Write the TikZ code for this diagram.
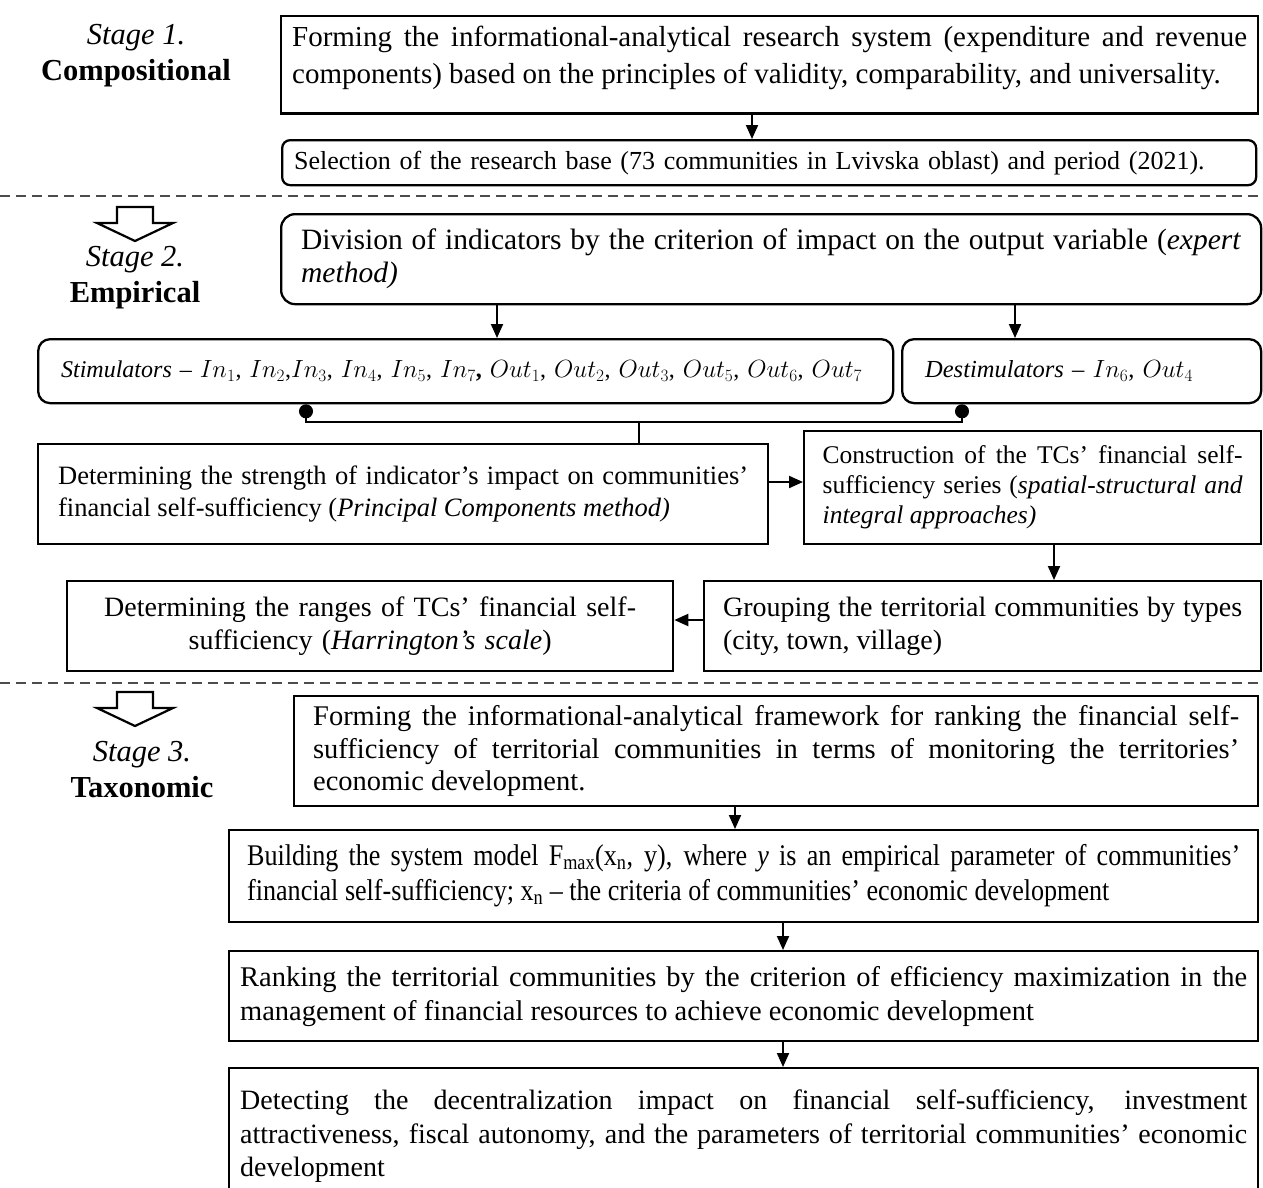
\documentclass[tikz,border=0pt]{standalone}
\usepackage{fontspec}
\setmainfont{Liberation Serif}
\newfontfamily\narrowserif[FakeStretch=0.87]{Liberation Serif}
\usepackage{tikz}
\usetikzlibrary{calc}
\usetikzlibrary{arrows.meta}
\hyphenpenalty=10000
\exhyphenpenalty=10000
\tikzset{
	>={Triangle[length=14pt,width=12pt]},
	stepbox/.style={
		draw=black, line width=2.3pt,
		anchor=north west,
		inner xsep=2pt,
		inner ysep=4pt,
		align=justify},
	roundbox/.style={
		stepbox,
		rounded corners=12pt},
	txt/.style 2 args={font=\fontsize{#1pt}{#2pt}\selectfont},
	flow/.style={draw, line width=2pt, ->},
	link/.style={draw, line width=2pt},
	stagelabel/.style={align=center, txt={30.5}{36}},
	sepline/.style={draw=black!70, line width=1.5pt, dash pattern=on 10pt off 6pt},
	stagearrow/.pic={
		\draw[line width=2.2pt, line join=miter]
			(-18,0) -- (18,0) -- (18,16) -- (38,16) -- (0,34) -- (-38,16) -- (-18,16) -- cycle;
	},
}

\begin{document}
\begin{tikzpicture}[x=1pt, y=-1pt]
	\useasboundingbox (0,0) rectangle (1263,1187);

	% stage labels
	\node[stagelabel] (stage1) at (136,56) {\textit{Stage 1.}\\\textbf{Compositional}};
	\node[stagelabel] (stage2) at (135,278) {\textit{Stage 2.}\\\textbf{Empirical}};
	\node[stagelabel] (stage3) at (142,770) {\textit{Stage 3.}\\\textbf{Taxonomic}};

	\draw[sepline] (0,196) -- (1263,196);
	\draw[sepline] (0,683) -- (1263,683);
	\pic at (135,207) {stagearrow};
	\pic at (135,692) {stagearrow};

	% stage 1
	\node[stepbox, txt={29}{37}, minimum width=977pt, minimum height=97pt, text width=955pt,
		inner ysep=10pt, text depth=57pt] (form1) at (280,15)
		{Forming the informational-analytical research system (expenditure and revenue\linebreak components) based on the principles of validity, comparability, and universality.};
	\node[roundbox, rounded corners=8pt, txt={26}{30}, align=left, minimum width=974pt,
		minimum height=45pt, text width=950pt] (select) at (281,139)
		{Selection of the research base (73 communities in Lvivska oblast) and period (2021).};

	% stage 2
	\node[roundbox, rounded corners=14pt, txt={29.5}{33}, minimum width=980pt, minimum height=90pt,
		text width=940pt] (division) at (280,213)
		{Division of indicators by the criterion of impact on the output variable (\textit{expert}\linebreak \textit{method)}};
	\node[roundbox, txt={24}{30}, align=left, minimum width=855pt, minimum height=64pt,
		text width=809pt] (stim) at (37,338)
		{\mbox{\textit{Stimulators} – $In_1$, $In_2$,$In_3$, $In_4$, $In_5$, $In_7$\textbf{,} $Out_1$, $Out_2$, $Out_3$, $Out_5$, $Out_6$, $Out_7$}};
	\node[roundbox, txt={24.5}{30}, align=left, minimum width=359pt, minimum height=64pt,
		text width=313pt] (destim) at (901,338)
		{\mbox{\textit{Destimulators} – $In_6$, $Out_4$}};
	\node[stepbox, txt={26.5}{32}, minimum width=730pt, minimum height=100pt,
		text width=690pt] (determ) at (37,443)
		{Determining the strength of indicator’s impact on communities’\linebreak financial self-sufficiency (\textit{Principal Components method)}};
	\node[stepbox, txt={25.5}{30}, minimum width=457pt, minimum height=113pt,
		text width=420pt] (constr) at (803,430)
		{Construction of the TCs’ financial self-\linebreak sufficiency series (\textit{spatial-structural and}\linebreak \textit{integral approaches)}};
	\node[stepbox, txt={28}{33}, minimum width=557pt, minimum height=90pt,
		text width=519pt] (group) at (703,580)
		{Grouping the territorial communities by types\linebreak (city, town, village)};
	\node[stepbox, txt={28}{33}, align=center, minimum width=606pt, minimum height=90pt,
		text width=570pt] (ranges) at (66,580)
		{Determining the ranges of TCs’ financial self-\\sufficiency (\textit{Harrington’s scale})};

	% stage 3
	\node[stepbox, txt={28.5}{32.5}, minimum width=964pt, minimum height=110pt,
		text width=926pt] (frame) at (293,695)
		{Forming the informational-analytical framework for ranking the financial self-\linebreak sufficiency of territorial communities in terms of monitoring the territories’\linebreak economic development.};
	\node[stepbox, font=\narrowserif\fontsize{30pt}{35pt}\selectfont, minimum width=1029pt,
		minimum height=92pt, text width=993pt] (build) at (228,829)
		{Building the system model F\textsubscript{max}(x\textsubscript{n}, y), where \textit{y} is an empirical parameter of communities’\linebreak financial self-sufficiency; x\textsubscript{n} – the criteria of communities’ economic development};
	\node[stepbox, txt={28.5}{34}, minimum width=1029pt, minimum height=90pt,
		text width=1007pt] (rank) at (228,950)
		{Ranking the territorial communities by the criterion of efficiency maximization in the\linebreak management of financial resources to achieve economic development};
	\node[stepbox, txt={28}{33.5}, minimum width=1029pt, text width=1007pt,
		inner ysep=22pt] (detect) at (228,1067)
		{Detecting the decentralization impact on financial self-sufficiency, investment\linebreak attractiveness, fiscal autonomy, and the parameters of territorial communities’ economic\linebreak development};

	% connectors
	\draw[flow] (752,0 |- form1.south) -- (752,0 |- select.north);
	\draw[flow] (497,0 |- division.south) -- (497,0 |- stim.north);
	\draw[flow] (1015,0 |- division.south) -- (1015,0 |- destim.north);
	\coordinate (joint) at (639,422);
	\draw[link, {Circle[length=14pt]}-{Circle[length=14pt]}] (306,0 |- stim.south) |- (joint) -| (962,0 |- destim.south);
	\draw[link] (joint) -- (joint |- determ.north);
	\draw[flow] (determ.east |- 0,482) -- (constr.west |- 0,482);
	\draw[flow] (1054,0 |- constr.south) -- (1054,0 |- group.north);
	\draw[flow] (group.west |- 0,620) -- (ranges.east |- 0,620);
	\draw[flow] (735,0 |- frame.south) -- (735,0 |- build.north);
	\draw[flow] (783,0 |- build.south) -- (783,0 |- rank.north);
	\draw[flow] (783,0 |- rank.south) -- (783,0 |- detect.north);
\end{tikzpicture}
\end{document}
